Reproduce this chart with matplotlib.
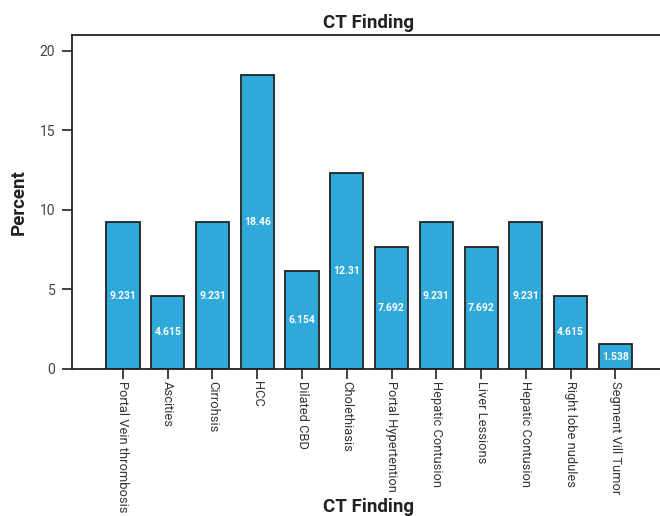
import numpy as np
import matplotlib
matplotlib.use("Agg")
import matplotlib.pyplot as plt

plt.rcParams['font.family'] = ['Roboto', 'DejaVu Sans']

# CT findings and their share (%)
findings = ['Portal Vein thrombosis', 'Ascities', 'Cirrohsis', 'HCC', 'Dilated CBD',
            'Cholethiasis', 'Portal Hypertention', 'Hepatic Contusion', 'Liver Lessions',
            'Hepatic Contusion', 'Right lobe nudules', 'Segment Vill Tumor']
percent = [9.231, 4.615, 9.231, 18.46, 6.154, 12.31, 7.692, 9.231, 7.692, 9.231, 4.615, 1.538]
yticks = [0, 5, 10, 15, 20]

bar_color = '#2ea9d9'
text_color = '#222222'

fig = plt.figure(figsize=(6.6, 5.16), dpi=100)
ax = fig.add_axes([0.109, 0.285, 0.9, 0.647])

x = np.arange(len(findings))
bars = ax.bar(x, percent, width=0.74, color=bar_color, edgecolor='#222222', linewidth=1.3)

for xi, v in zip(x, percent):
    ax.text(xi, v / 2, f'{v:g}', ha='center', va='center', color='white',
            fontsize=7.5, fontweight='bold')

ax.set_xlim(-1.14, 12.13)
ax.set_ylim(0, 21)
ax.set_yticks(yticks)
ax.set_xticks(x)
ax.set_xticklabels(findings, rotation=270, ha='center', va='top', fontsize=9.3, color='#333333')
ax.tick_params(axis='both', length=7, width=1.2, color='#222222')
ax.tick_params(axis='x', pad=2)
ax.tick_params(axis='y', labelsize=10, labelcolor='#444444', pad=5)

for s in ['left', 'top', 'bottom']:
    ax.spines[s].set_linewidth(1.3)
    ax.spines[s].set_color('#222222')
ax.spines['right'].set_visible(False)

ax.set_title('CT Finding', fontsize=13.5, fontweight='bold', color=text_color, pad=5)
ax.set_ylabel('Percent', fontsize=13.5, fontweight='bold', color=text_color, labelpad=9)
fig.text(0.559, 0.017, 'CT Finding', ha='center', va='center', fontsize=13.5,
         fontweight='bold', color=text_color)

fig.savefig('out.png', dpi=100)
